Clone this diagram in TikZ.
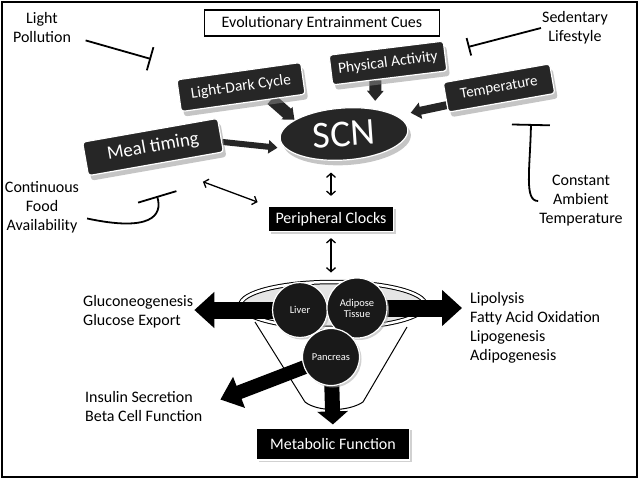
\documentclass[tikz,border=0pt]{standalone}
\usepackage{fontspec}
\setmainfont{Carlito}
\usetikzlibrary{arrows.meta,shapes.geometric,shadows,calc}
\pgfdeclarelayer{bottom}
\pgfdeclarelayer{middle}
\pgfsetlayers{bottom,middle,main}

\begin{document}
\begin{tikzpicture}[
        x=1pt, y=-1pt, % Координаты в пикселях, ось y вниз
        cue/.style={rectangle, rounded corners=3pt, fill=black!85, draw=white, line width=1.2pt,
                text=white, inner sep=2pt,
                drop shadow={shadow xshift=3pt, shadow yshift=-5pt, fill=black!45, opacity=.5}},
        clock/.style={rectangle, fill=black, draw=white, line width=1.2pt, text=white,
                font=\fontsize{16}{19}\selectfont,
                drop shadow={shadow xshift=2pt, shadow yshift=-2pt, fill=black!30, opacity=.6}},
        organ/.style={circle, fill=black!90, draw=white, line width=1.2pt, text=white,
                minimum size=#1, inner sep=0pt, align=center, font=\fontsize{10.5}{11}\selectfont,
                drop shadow={shadow xshift=2pt, shadow yshift=-2pt, fill=black!30, opacity=.6}},
        txt/.style={align=center, font=\fontsize{16}{19}\selectfont, inner sep=1pt}, % Подписи
        effect/.style={align=left, font=\fontsize{16}{19}\selectfont, inner sep=1pt, anchor=west},
        pointer/.style={draw=black!85, line width=8pt, -{Triangle[width=16pt,length=10pt]}},
        fat/.style={draw=black, line width=17pt, -{Triangle[width=35pt,length=20pt]}},
        dbl/.style={line width=1.3pt, {Straight Barb[length=4pt,width=9pt]}-{Straight Barb[length=4pt,width=9pt]}},
        inhib/.style={line width=1.8pt, -{Bar[width=#1]}},
    ]
    \useasboundingbox (0,0) rectangle (640,480);
    \draw[line width=2.5pt] (2,2) rectangle (637,477);

    % Факторы среды
    \node[draw, line width=1.2pt, minimum width=235pt, minimum height=26pt,
        font=\fontsize{16}{19}\selectfont] (cues) at (322,23) {Evolutionary Entrainment Cues};
    \node[cue, rotate=8, minimum width=125pt, minimum height=32pt, font=\fontsize{15.5}{18}\selectfont]
        (ldc) at (241,87) {Light-Dark Cycle};
    \node[cue, rotate=7, minimum width=115pt, minimum height=30pt, font=\fontsize{15.5}{18}\selectfont]
        (pa) at (388,63) {Physical Activity};
    \node[cue, rotate=10, minimum width=108pt, minimum height=30pt, font=\fontsize{15}{18}\selectfont]
        (temp) at (499,88) {Temperature};
    \node[cue, rotate=10, minimum width=137pt, minimum height=34pt, font=\fontsize{19}{22}\selectfont]
        (meal) at (153,147) {Meal timing};
    \node[cue, ellipse, rounded corners=0pt, rotate=4, minimum width=128pt, minimum height=52pt,
        font=\fontsize{38}{40}\selectfont] (scn) at (344,134) {SCN};

    \node[txt] (lp) at (42,28) {Light\\Pollution};
    \node[txt] (sl) at (575,28) {Sedentary\\Lifestyle};
    \node[txt] (cf) at (42,207) {Continuous\\Food\\Availability};
    \node[txt] (cat) at (581,201) {Constant\\Ambient\\Temperature};

    \node[clock, minimum width=125pt, minimum height=25pt] (pc) at (331,219) {Peripheral Clocks};

    % Органы
    \begin{pgfonlayer}{bottom}
        \draw[line width=1pt] (255,322) -- (305,402) .. controls (318,412) and (348,412) .. (363,402) -- (407,327);
        \node[ellipse, draw, line width=1pt, double, double distance=2.5pt, fill=black!10,
            minimum width=185pt, minimum height=46pt] (organs) at (333,305) {};
    \end{pgfonlayer}
    \node[organ=55pt] (liver) at (300,310) {Liver};
    \node[organ=60pt] (adipose) at (357,308) {Adipose\\Tissue};
    \node[organ=57pt] (pancreas) at (331,357) {Pancreas};

    \node[effect] (gluco) at (82,312) {Gluconeogenesis\\Glucose Export};
    \node[effect] (lipo) at (469,328) {Lipolysis\\Fatty Acid Oxidation\\Lipogenesis\\Adipogenesis};
    \node[effect] (insulin) at (84,406) {Insulin Secretion\\Beta Cell Function};
    \node[clock, minimum width=153pt, minimum height=32pt] (mf) at (333,444) {Metabolic Function};

    % Стрелки под узлами
    \begin{pgfonlayer}{middle}
        \draw[pointer, line width=12pt] ($(ldc.south)!0.45!(ldc.south east)$) -- (scn.160);
        \draw[pointer, line width=12pt, shorten >=8pt] ($(pa.south)!0.25!(pa.south west)$) -- (scn.35);
        \draw[pointer, shorten >=14pt] ($(temp.west)!0.5!(temp.south west)$) -- (scn.15);
        \draw[pointer, line width=6pt, -{Triangle[width=13pt,length=9pt]}, shorten >=8pt]
            ($(meal.east)!0.4!(meal.south east)$) -- (scn.190);
        \draw[fat] (liver.center) -- (liver.center -| gluco.east);
        \draw[fat, shorten >=7pt] (adipose.center) -- (adipose.center -| lipo.west);
        \draw[fat, line width=14pt, -{Triangle[width=32pt,length=20pt]}, shorten >=18pt]
            (pancreas.center) -- (insulin.east);
        \draw[fat, line width=15pt, -{Triangle[width=30pt,length=13pt]}, shorten >=3pt]
            (pancreas.center) -- (mf.north);
    \end{pgfonlayer}

    \draw[dbl, shorten <=50pt, shorten >=11pt] (meal.south) -- (pc.north west);
    \draw[dbl, shorten <=12pt, shorten >=10pt] (scn.south -| pc.north) -- (pc.north);
    \draw[dbl, shorten <=6pt, shorten >=9pt] (pc.south) -- (pc.south |- organs.north);

    % Подавляющие факторы
    \coordinate (lpend) at (151,59);
    \coordinate (slend) at (468,47);
    \coordinate (cfend) at (157,196);
    \coordinate (catend) at (531,124);
    \draw[inhib=24pt, shorten <=14pt] (lp) -- (lpend);
    \draw[inhib=18pt] (sl.west) -- (slend);
    \draw[inhib=40pt, shorten <=7pt] ([yshift=-10pt]cf.east) .. controls (150,232) and (163,216) .. (cfend);
    \draw[inhib=38pt] (cat.west) .. controls (524,201) and (530,170) .. (catend);
\end{tikzpicture}
\end{document}
